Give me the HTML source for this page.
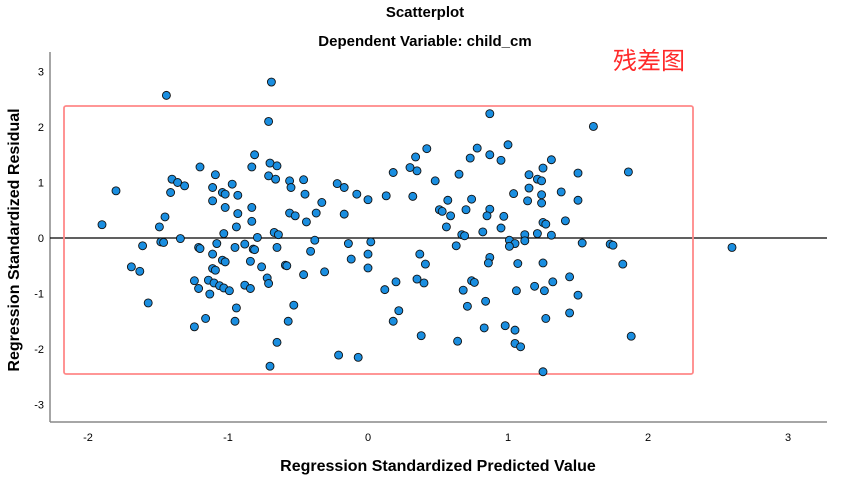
<!DOCTYPE html>
<html><head><meta charset="utf-8"><style>
body{margin:0;background:#fff;font-family:"Liberation Sans","Noto Sans CJK SC",sans-serif;}
svg{display:block}
</style></head><body>
<svg id="chart" width="841" height="477">
<text x="425" y="17" text-anchor="middle" font-size="15" font-weight="bold">Scatterplot</text>
<text x="425" y="46" text-anchor="middle" font-size="15" font-weight="bold">Dependent Variable: child_cm</text>
<text x="649" y="69" text-anchor="middle" font-size="24" fill="#ff2a2a" font-family="'Noto Sans CJK SC',sans-serif">残差图</text>
<g id="axes"></g>
<rect x="64" y="106" width="629" height="268" rx="2" fill="none" stroke="#f88" stroke-width="1.8"/>
<g id="pts"></g>
<text x="438" y="471" text-anchor="middle" font-size="16" font-weight="bold">Regression Standardized Predicted Value</text>
<text transform="translate(19,240) rotate(-90)" text-anchor="middle" font-size="16" font-weight="bold">Regression Standardized Residual</text>
</svg>
<script>
const xTicks=[-2,-1,0,1,2,3];
const yTicks=[3,2,1,0,-1,-2,-3];
const predicted=[-0.69,-1.44,-0.71,-0.81,-1.20,-0.83,-0.70,-0.65,-1.09,-0.71,-0.66,-1.40,-1.36,-1.31,-1.80,-1.41,-1.11,-0.97,-1.04,-1.02,-0.93,-0.56,-0.46,-0.55,-0.45,-0.22,-0.17,-0.08,0.00,-1.11,-1.02,-0.83,-0.93,-0.33,-0.56,-0.52,-0.37,-0.17,-1.45,-1.49,-1.90,-0.83,-0.94,-0.44,-1.03,-0.67,-0.64,-0.79,-1.34,-1.48,-1.46,-1.61,-1.08,-0.88,-0.38,-0.14,0.02,-1.21,-1.20,-0.95,-0.82,-0.81,-0.65,-0.41,-1.11,0.00,-1.04,-1.02,-0.84,-1.69,-1.63,-1.11,-1.09,-0.76,-0.59,-0.58,-0.12,-0.31,-0.46,0.00,-0.72,-0.71,-1.24,-1.14,-1.10,-1.06,-1.03,-0.99,-1.21,-0.88,-0.84,-1.13,-1.57,-0.94,-0.53,-1.16,-1.24,-0.95,-0.57,-0.65,-0.21,-0.07,-0.70,
0.87,1.61,0.42,0.78,1.00,0.34,0.73,0.87,0.95,1.31,0.30,0.35,0.18,0.65,1.25,1.15,1.21,1.24,1.50,1.86,0.48,1.15,0.13,0.32,1.04,1.24,1.38,0.57,0.74,1.14,1.24,1.50,0.51,0.53,0.70,0.87,0.85,0.97,0.59,0.56,0.95,0.82,1.25,1.27,1.41,0.67,0.69,1.12,1.21,1.31,1.01,1.05,1.01,1.12,0.63,1.53,1.73,1.75,2.60,0.37,0.41,0.87,0.86,1.07,1.25,1.82,0.20,0.12,0.35,0.40,0.74,0.76,0.68,1.06,1.19,1.26,1.32,1.44,1.50,0.84,0.71,0.22,0.18,1.27,1.44,0.83,0.98,1.05,0.38,0.64,1.05,1.09,1.88,1.25];
const residual=[2.81,2.57,2.10,1.50,1.28,1.28,1.35,1.30,1.14,1.12,1.06,1.06,1.00,0.94,0.85,0.82,0.91,0.97,0.82,0.79,0.77,1.03,1.05,0.91,0.79,0.98,0.91,0.79,0.69,0.67,0.55,0.55,0.44,0.64,0.45,0.40,0.45,0.43,0.38,0.20,0.24,0.30,0.20,0.29,0.08,0.10,0.06,0.01,-0.01,-0.07,-0.08,-0.14,-0.10,-0.11,-0.04,-0.10,-0.07,-0.17,-0.19,-0.17,-0.20,-0.21,-0.17,-0.24,-0.29,-0.29,-0.40,-0.43,-0.42,-0.52,-0.60,-0.55,-0.58,-0.52,-0.49,-0.50,-0.38,-0.61,-0.66,-0.54,-0.72,-0.82,-0.77,-0.76,-0.81,-0.86,-0.90,-0.95,-0.91,-0.85,-0.91,-1.01,-1.17,-1.26,-1.21,-1.45,-1.60,-1.50,-1.50,-1.88,-2.11,-2.15,-2.31,
2.24,2.01,1.61,1.62,1.68,1.46,1.44,1.50,1.40,1.41,1.27,1.21,1.18,1.15,1.26,1.14,1.06,1.03,1.17,1.19,1.03,0.90,0.76,0.75,0.80,0.78,0.83,0.68,0.70,0.67,0.63,0.68,0.51,0.48,0.51,0.52,0.40,0.39,0.40,0.20,0.18,0.11,0.28,0.25,0.31,0.06,0.04,0.06,0.08,0.05,-0.04,-0.10,-0.15,-0.05,-0.14,-0.09,-0.11,-0.13,-0.17,-0.29,-0.47,-0.35,-0.45,-0.46,-0.45,-0.47,-0.79,-0.93,-0.74,-0.81,-0.77,-0.80,-0.94,-0.95,-0.87,-0.95,-0.79,-0.70,-1.03,-1.14,-1.23,-1.31,-1.50,-1.45,-1.35,-1.62,-1.58,-1.66,-1.76,-1.86,-1.90,-1.96,-1.77,-2.41];
const NS='http://www.w3.org/2000/svg';
const sx=v=>368+v*140;
const sy=v=>238-v*55.5;
const axes=document.getElementById('axes');
function mk(tag,attrs,parent){const e=document.createElementNS(NS,tag);for(const k in attrs)e.setAttribute(k,attrs[k]);parent.appendChild(e);return e;}
let l=mk('line',{x1:50,y1:52,x2:50,y2:422,stroke:'#888','stroke-width':1.5},axes);


l=mk('line',{x1:50,y1:422,x2:827,y2:422,stroke:'#888','stroke-width':1.5},axes);


l=mk('line',{x1:50,y1:sy(0),x2:827,y2:sy(0),stroke:'#000','stroke-width':1.2},axes);


xTicks.forEach(t=>{const e=mk('text',{x:sx(t),y:441,'text-anchor':'middle','font-size':11},axes);e.textContent=t;

});
yTicks.forEach(t=>{const e=mk('text',{x:44,y:sy(t)+4,'text-anchor':'end','font-size':11},axes);e.textContent=t;

});
const pts=document.getElementById('pts');
predicted.forEach((x,i)=>{const c=mk('circle',{cx:sx(x),cy:sy(residual[i]),r:4,fill:'#1a8ee0',stroke:'#111','stroke-width':0.9},pts);

});
</script>
</body></html>
